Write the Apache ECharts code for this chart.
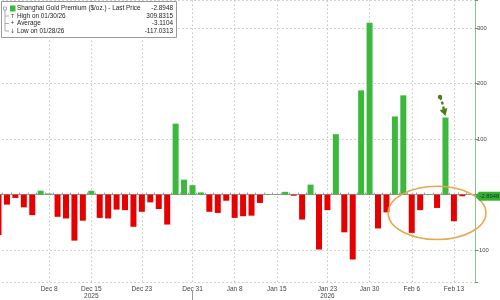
<!DOCTYPE html>
<html><head><meta charset="utf-8">
<script src="https://cdn.jsdelivr.net/npm/echarts@6/dist/echarts.min.js"></script>
<style>html,body{margin:0;padding:0;background:#fff;overflow:hidden;width:500px;height:300px}
#c{position:absolute;left:-6px;top:0;width:506px;height:300px}</style>
</head><body><div id="c"></div>
<script>
// ---- data ----
const categories = ['Nov 28','Dec 1','Dec 2','Dec 3','Dec 4','Dec 5','Dec 8','Dec 9','Dec 10','Dec 11','Dec 12',
  'Dec 15','Dec 16','Dec 17','Dec 18','Dec 19','Dec 22','Dec 23','Dec 24','Dec 25','Dec 26','Dec 29','Dec 30','Dec 31',
  'Jan 2','Jan 5','Jan 6','Jan 7','Jan 8','Jan 9','Jan 12','Jan 13','Jan 14','Jan 15','Jan 16','Jan 19','Jan 20','Jan 21',
  'Jan 22','Jan 23','Jan 26','Jan 27','Jan 28','Jan 29','Jan 30','Feb 2','Feb 3','Feb 4','Feb 5','Feb 6','Feb 9','Feb 10',
  'Feb 11','Feb 12','Feb 13','Feb 16','Feb 17'];
const premium = [-73,-18,-6,-23,-37,7,2,-40,-43,-83,-47,
  7,-42,-43,-27,-28,-58,-31,-14,-26,-54,128,27,17,
  4,-31,-33,-11,-42,-39,-38,-15,1,0.8,5,-2,-45,18,
  -99,-28,109,-68,-117.0313,188,309.8315,-61,-32,141,179,-69,-28,1,
  -24,139,-48,-2.8948,null];
const tickCategories = ['Dec 8','Dec 15','Dec 23','Dec 31','Jan 8','Jan 15','Jan 23','Jan 30','Feb 6','Feb 13'];
const tickLabels = ['Dec 8','Dec 15\n2025','Dec 23','Dec 31','Jan 8','Jan 15','Jan 23\n2026','Jan 30','Feb 6','Feb 13'];
const yTickValues = [-100,100,200,300];
const legendNames = ['Shanghai Gold Premium ($/oz.) - Last Price','High on 01/30/26','Average','Low on 01/28/26'];
const legendValues = ['-2.8948','309.8315','-3.1104','-117.0313'];
const lastPrice = -2.8948;
const yearBreakAt = 'Dec 31';
const circledCenter = ['Feb 11', -33];   // annotation ellipse (data coords)
const arrowFrom = [52.35, 176];          // annotation arrow (category index, value)
const arrowTo = [53, 142];

const GREEN = '#3cb83c', RED = '#e60000';
const FONT = 'Liberation Sans';
const OX = 6; // canvas is shifted 6px left of the viewport

const chart = echarts.init(document.getElementById('c'), null, {renderer:'canvas'});
chart.setOption({
  animation:false,
  backgroundColor:'#fff',
  grid:{left:0.3, right:25, top:0, bottom:16, containLabel:false},
  xAxis:{
    type:'category', data:categories, boundaryGap:true,
    axisLine:{show:true, lineStyle:{color:'#999', width:1}},
    axisTick:{show:true, interval:0, inside:true, length:2, lineStyle:{color:'#999'}},
    axisLabel:{
      interval:(i, v) => tickCategories.indexOf(v) >= 0,
      formatter:v => { const k = tickCategories.indexOf(v); return k >= 0 ? tickLabels[k] : ''; },
      fontSize:6.5, color:'#444', margin:3, lineHeight:7.5, fontFamily:FONT
    },
    splitLine:{show:false}
  },
  yAxis:{
    type:'value', position:'right', min:-157.6, max:351, splitNumber:5,
    axisLine:{show:true, lineStyle:{color:'#8cc08c', width:1}},
    axisTick:{show:true, length:3, lineStyle:{color:'#5aa05a'}},
    axisLabel:{formatter:v => yTickValues.indexOf(v) >= 0 ? String(v) : '', fontSize:5.8, color:'#444', margin:2, fontFamily:FONT},
    splitLine:{show:true, lineStyle:{type:[1.5,2.5], color:'#c4c4c4', width:1}}
  },
  series:[
    {
      type:'line', data:[], z:0, silent:true,
      markLine:{
        silent:true, symbol:'none', animation:false, z:0,
        data: tickCategories.map(c => ({xAxis:c})),
        lineStyle:{type:[1.5,2.5], color:'#c4c4c4', width:1}, label:{show:false}
      }
    },
    {
      type:'bar', data:premium, barWidth:6, z:3,
      itemStyle:{color:p => (p.value >= 0 ? GREEN : RED)}
    }
  ]
});

// ---- annotations positioned from data coordinates ----
function px(ci, v){
  const i0 = Math.max(0, Math.min(categories.length - 2, Math.floor(ci)));
  const a = chart.convertToPixel({seriesIndex:1}, [i0, v]);
  const b = chart.convertToPixel({seriesIndex:1}, [i0 + 1, v]);
  const t = ci - i0;
  return [a[0] + (b[0] - a[0]) * t, a[1]];
}
const ec = px(categories.indexOf(circledCenter[0]), circledCenter[1]);
const catW = px(1,0)[0] - px(0,0)[0];
const unitY = px(0,0)[1] - px(0,100)[1];
const p1 = px(arrowFrom[0], arrowFrom[1]);
const p2 = px(arrowTo[0], arrowTo[1]);
const dx = p2[0] - p1[0], dy = p2[1] - p1[1];
const len = Math.sqrt(dx*dx + dy*dy), ux = dx/len, uy = dy/len;
const head = [[p2[0], p2[1]],
  [p2[0] - ux*7 - uy*4, p2[1] - uy*7 + ux*4],
  [p2[0] - ux*7 + uy*4, p2[1] - uy*7 - ux*4]];
const lp = px(categories.length - 1, lastPrice);
const axisX = chart.convertToPixel({xAxisIndex:0}, categories.length - 1) + catW / 2;
const yb = px(categories.indexOf(yearBreakAt), -157.6);

const rowY = [8.5, 16, 23.5, 31];
const legendGraphic = [
  {type:'rect', shape:{x:1.5+OX, y:1.5, width:175, height:36}, style:{fill:'#fff', stroke:'#999', lineWidth:1}},
  {type:'line', shape:{x1:5+OX, y1:rowY[0], x2:5+OX, y2:rowY[3]}, style:{stroke:'#aaa', lineWidth:1}},
  ...rowY.slice(1).map(y => ({type:'line', shape:{x1:5+OX, y1:y, x2:9+OX, y2:y}, style:{stroke:'#aaa', lineWidth:1}})),
  {type:'rect', shape:{x:3.5+OX, y:rowY[0]-1.5, width:3, height:3}, style:{fill:'#fff', stroke:'#999', lineWidth:0.8}},
  {type:'rect', shape:{x:10+OX, y:rowY[0]-3, width:5.5, height:6}, style:{fill:GREEN}},
  {type:'text', x:12.5+OX, y:rowY[1], style:{text:'T', fontSize:6, fill:'#444', align:'center', verticalAlign:'middle', fontFamily:FONT}},
  {type:'text', x:12.5+OX, y:rowY[2], style:{text:'+', fontSize:6.5, fill:'#444', align:'center', verticalAlign:'middle', fontFamily:FONT}},
  {type:'text', x:12.5+OX, y:rowY[3], style:{text:'↓', fontSize:6, fill:'#444', align:'center', verticalAlign:'middle', fontFamily:'DejaVu Sans'}},
  ...legendNames.map((n, i) => ({type:'text', x:17+OX, y:rowY[i], style:{text:n, fontSize:6.4, fill:'#222', verticalAlign:'middle', fontFamily:FONT}})),
  ...legendValues.map((v, i) => ({type:'text', x:173+OX, y:rowY[i], style:{text:v, fontSize:6.4, fill:'#222', align:'right', verticalAlign:'middle', fontFamily:FONT}}))
];

chart.setOption({
  graphic:[
    {type:'line', shape:{x1:Math.round(yb[0])+0.5, y1:yb[1]+8, x2:Math.round(yb[0])+0.5, y2:300}, style:{stroke:'#999', lineWidth:1}, z:100},
    {type:'ellipse', shape:{cx:ec[0], cy:ec[1], rx:catW*5.8, ry:unitY*0.48}, style:{fill:null, stroke:'#e6a94e', lineWidth:1.5}, z:100},
    {type:'circle', shape:{cx:p1[0], cy:p1[1], r:2.2}, style:{fill:'#4e7d12'}, z:100},
    {type:'bezierCurve', shape:{x1:p1[0], y1:p1[1], x2:p2[0]-ux*6, y2:p2[1]-uy*6,
       cpx1:p1[0]+3, cpy1:p1[1]+6}, style:{stroke:'#4e7d12', lineWidth:2.3, lineDash:[3,2], fill:null}, z:100},
    {type:'polygon', shape:{points:head}, style:{fill:'#4e7d12'}, z:100},
    {type:'polygon', shape:{points:[[axisX+0.5, lp[1]], [axisX+4, lp[1]-4.5], [axisX+4, lp[1]+4.5]]}, style:{fill:'#35b235'}, z:105},
    {type:'rect', shape:{x:axisX+4, y:lp[1]-4.5, width:30, height:9}, style:{fill:'#35b235'}, z:105},
    {type:'text', x:axisX+4.5, y:lp[1], style:{text:legendValues[0], fontSize:5.8, fill:'#123812', verticalAlign:'middle', fontFamily:FONT}, z:106},
    ...legendGraphic.map(g => Object.assign({z:110}, g))
  ]
});
</script></body></html>
